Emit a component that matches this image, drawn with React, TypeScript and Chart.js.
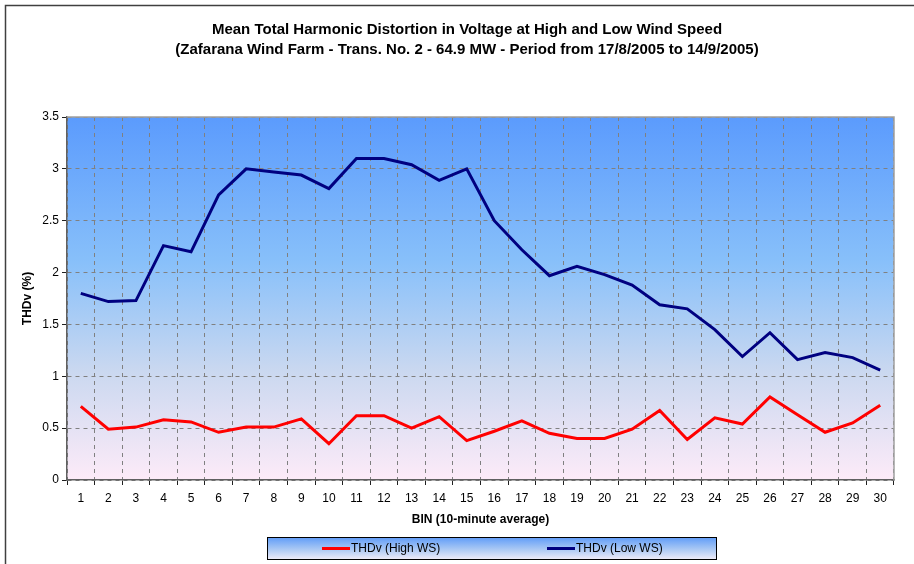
import React, { useEffect, useRef } from "react";
import { Chart, registerables } from "chart.js";

Chart.register(...registerables);

const bins = Array.from({ length: 30 }, (_, i) => String(i + 1));
const highWS = [0.71, 0.49, 0.51, 0.58, 0.56, 0.46, 0.51, 0.51, 0.59, 0.35, 0.62, 0.62, 0.5, 0.61, 0.38, 0.47, 0.57, 0.45, 0.4, 0.4, 0.49, 0.67, 0.39, 0.6, 0.54, 0.8, 0.63, 0.46, 0.55, 0.72];
const lowWS = [1.8, 1.72, 1.73, 2.26, 2.2, 2.75, 3.0, 2.97, 2.94, 2.81, 3.1, 3.1, 3.04, 2.89, 3.0, 2.5, 2.22, 1.97, 2.06, 1.98, 1.88, 1.69, 1.65, 1.45, 1.19, 1.42, 1.16, 1.23, 1.18, 1.06];
const seriesNames = ["THDv (High WS)", "THDv (Low WS)"];
const titleLines = [
  "Mean Total Harmonic Distortion in Voltage at High and Low Wind Speed",
  "(Zafarana Wind Farm - Trans. No. 2 - 64.9 MW - Period from 17/8/2005 to 14/9/2005)",
];
const yTitle = "THDv (%)";
const xTitle = "BIN (10-minute average)";

const FONT = "'Liberation Sans', Arial, sans-serif";

const decorPlugin = {
  id: "decor",
  beforeDraw(chart: any) {
    const { ctx, chartArea: a } = chart;
    ctx.save();
    const g = ctx.createLinearGradient(0, a.top, 0, a.bottom);
    g.addColorStop(0, "#5B9BFD");
    g.addColorStop(0.4, "#88C0FA");
    g.addColorStop(0.7, "#CAD8F0");
    g.addColorStop(1, "#FDEBF8");
    ctx.fillStyle = g;
    ctx.fillRect(a.left, a.top, a.right - a.left, a.bottom - a.top);
    // outer frame
    ctx.strokeStyle = "#404040";
    ctx.lineWidth = 1.5;
    ctx.beginPath();
    ctx.moveTo(5.5, chart.height + 5);
    ctx.lineTo(5.5, 5.5);
    ctx.lineTo(chart.width + 5, 5.5);
    ctx.stroke();
    ctx.restore();
  },
  beforeDatasetsDraw(chart: any) {
    const { ctx, chartArea: a } = chart;
    ctx.save();
    ctx.strokeStyle = "#A0A0A0";
    ctx.lineWidth = 1.5;
    ctx.beginPath();
    ctx.moveTo(a.left, a.top);
    ctx.lineTo(a.right, a.top);
    ctx.lineTo(a.right, a.bottom);
    ctx.stroke();
    ctx.restore();
  },
  afterDraw(chart: any) {
    const { ctx } = chart;
    const bx = 267, by = 537, bw = 449, bh = 22;
    ctx.save();
    const g = ctx.createLinearGradient(0, by, 0, by + bh);
    g.addColorStop(0, "#5E9BF8");
    g.addColorStop(0.55, "#A9C8F4");
    g.addColorStop(1, "#ECEAF8");
    ctx.fillStyle = g;
    ctx.fillRect(bx, by, bw, bh);
    ctx.strokeStyle = "#000000";
    ctx.lineWidth = 1;
    ctx.strokeRect(bx + 0.5, by + 0.5, bw, bh);
    ctx.font = `12px ${FONT}`;
    ctx.textBaseline = "middle";
    ctx.fillStyle = "#000";
    const items = chart.data.datasets;
    const starts = [322, 547];
    items.forEach((ds: any, i: number) => {
      const x = starts[i];
      const y = by + bh / 2 + 0.5;
      ctx.strokeStyle = ds.borderColor;
      ctx.lineWidth = 3;
      ctx.beginPath();
      ctx.moveTo(x, y);
      ctx.lineTo(x + 28, y);
      ctx.stroke();
      ctx.fillText(ds.label, x + 29, y);
    });
    ctx.restore();
  },
};

export default function App() {
  const ref = useRef<HTMLCanvasElement>(null);
  useEffect(() => {
    const canvas = ref.current!;
    const chart = new Chart(canvas, {
      type: "line",
      data: {
        labels: bins,
        datasets: [
          { label: seriesNames[0], data: highWS, borderColor: "#FF0000", backgroundColor: "#FF0000", borderWidth: 3, pointRadius: 0, tension: 0 },
          { label: seriesNames[1], data: lowWS, borderColor: "#000080", backgroundColor: "#000080", borderWidth: 3, pointRadius: 0, tension: 0 },
        ],
      },
      options: {
        animation: false,
        responsive: false,
        devicePixelRatio: 1,
        layout: { padding: { left: 40, right: 20, top: 0, bottom: 0 } },
        plugins: {
          legend: { display: false },
          tooltip: { enabled: false },
          title: {
            display: true,
            text: titleLines,
            color: "#000",
            font: { family: FONT, size: 15, weight: "bold", lineHeight: 20 / 15 },
            padding: { top: 20, bottom: 57 },
          },
        },
        scales: {
          x: {
            type: "category",
            offset: true,
            grid: {
              offset: true,
              color: "#808080",
              lineWidth: 1,
              drawTicks: true,
              tickLength: 5,
              tickColor: "#202020",
              tickBorderDash: [],
            },
            border: { display: true, color: "#606060", width: 1.5, dash: [4, 4] },
            ticks: { color: "#000", font: { family: FONT, size: 12 }, padding: 6, maxRotation: 0, autoSkip: false },
            title: { display: true, text: xTitle, color: "#000", font: { family: FONT, size: 12, weight: "bold" }, padding: { top: 0, bottom: 37 } },
            afterFit(scale: any) {
              scale.height = 84;
            },
          },
          y: {
            min: 0,
            max: 3.5,
            ticks: {
              stepSize: 0.5,
              color: "#000",
              font: { family: FONT, size: 12 },
              padding: 3,
              callback: (v: any) => String(Math.round(Number(v) * 10) / 10),
            },
            grid: {
              color: "#808080",
              lineWidth: 1,
              drawTicks: true,
              tickLength: 5,
              tickColor: "#202020",
              tickBorderDash: [],
            },
            border: { display: true, color: "#606060", width: 1.5, dash: [4, 4] },
            title: { display: true, text: yTitle, color: "#000", font: { family: FONT, size: 12, weight: "bold" }, padding: { top: -19.2, bottom: 0 } },
            afterFit(scale: any) {
              scale.width = 27;
            },
          },
        },
      },
      plugins: [decorPlugin],
    } as any);
    return () => chart.destroy();
  }, []);
  return (
    <div style={{ position: "fixed", left: 0, top: 0, width: 914, height: 564, background: "#fff" }}>
      <canvas ref={ref} width={914} height={564} style={{ width: 914, height: 564, display: "block" }} />
    </div>
  );
}
